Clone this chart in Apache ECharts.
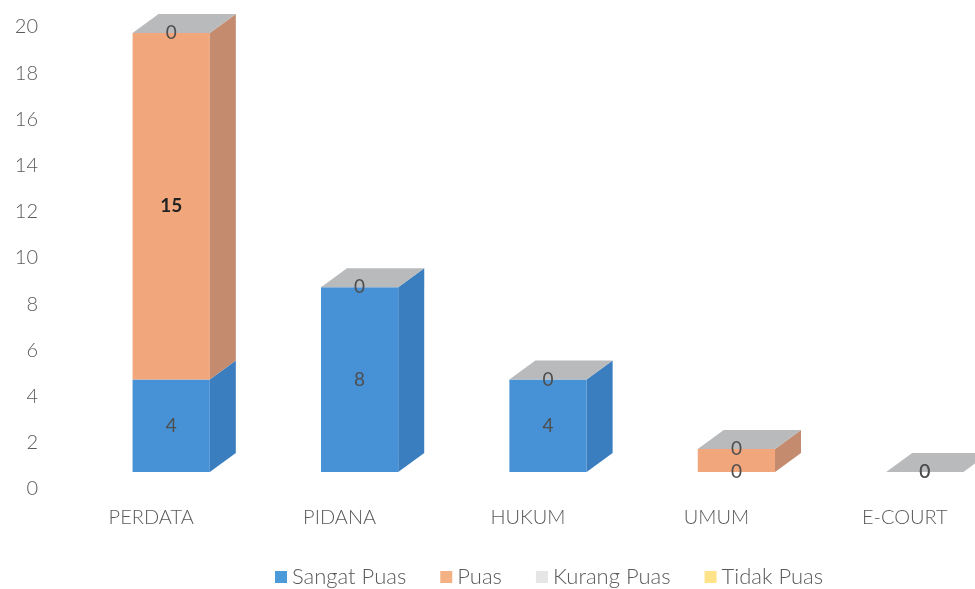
<!DOCTYPE html>
<html>
<head>
<meta charset="utf-8">
<script src="https://cdn.jsdelivr.net/npm/echarts@6/dist/echarts.min.js"></script>
<style>html,body{margin:0;padding:0;background:#fff;}#c{width:975px;height:589px;}</style>
</head>
<body>
<div id="c"></div>
<script>
const categories = ['PERDATA', 'PIDANA', 'HUKUM', 'UMUM', 'E-COURT'];
const sangatPuas = [4, 8, 4, 0, 0];
const puas = [15, 0, 0, 1, 0];
const kurangPuas = [0, 0, 0, 0, 0];
const tidakPuas = [0, 0, 0, 0, 0];
const yTicks = { min: 0, max: 20, interval: 2 };

// styling constants
const OX = 20, OY = -17, DX = 26, DY = -19, FACE = 0.41;
const FONT = 'Lato, "Open Sans", sans-serif';

const seriesDefs = [
  { name: 'Sangat Puas', values: sangatPuas, front: '#4792d6', side: '#3a7ec0', top: '#6aa8e0', legend: '#4d9ad8', label: 'all' },
  { name: 'Puas', values: puas, front: '#f2a67c', side: '#c48b6e', top: '#f5b896', legend: '#f4b183', label: 'puas' },
  { name: 'Tidak Puas', values: tidakPuas, front: '#ffd966', side: '#d9b84f', top: '#ffe38a', legend: '#ffe38a', label: 'none' },
  { name: 'Kurang Puas', values: kurangPuas, front: '#d0d0d0', side: '#b0b0b0', top: '#b9babc', legend: '#e7e6e6', label: 'all' }
];
const lastIdx = seriesDefs.length - 1;

// stack bases
const bases = categories.map(() => 0);
const series = seriesDefs.map((def, si) => {
  const data = def.values.map((v, i) => {
    const b = bases[i];
    bases[i] += v;
    return [i, b, b + v, v];
  });
  return {
    type: 'custom',
    name: def.name,
    itemStyle: { color: def.legend },
    encode: { x: 0, y: 2 },
    clip: false,
    data: data,
    renderItem: function (params, api) {
      const cat = api.value(0), v0 = api.value(1), v1 = api.value(2), val = api.value(3);
      const p0 = api.coord([cat, v0]);
      const p1 = api.coord([cat, v1]);
      const band = api.size([1, 0])[0];
      const w = band * FACE;
      const cx = p0[0] + OX;
      const x0 = cx - w / 2, x1 = cx + w / 2;
      const yb = p0[1] + OY, yt = p1[1] + OY;
      const children = [];
      if (yb - yt > 0.1) {
        children.push({ type: 'rect', shape: { x: x0, y: yt, width: w, height: yb - yt }, style: { fill: def.front } });
        children.push({ type: 'polygon', shape: { points: [[x1, yb], [x1 + DX, yb + DY], [x1 + DX, yt + DY], [x1, yt]] }, style: { fill: def.side } });
      }
      if (si === lastIdx) {
        children.push({ type: 'polygon', shape: { points: [[x0, yt], [x1, yt], [x1 + DX, yt + DY], [x0 + DX, yt + DY]] }, style: { fill: def.top } });
      }
      let show = def.label === 'all' || (def.label === 'puas' && val !== 1);
      if (def.label === 'puas' && val === 0) show = false;
      if (show) {
        const bold = def.label === 'puas';
        children.push({
          type: 'text', z2: 10,
          style: {
            text: String(val), x: cx, y: (yt + yb) / 2,
            textAlign: 'center', textVerticalAlign: 'middle',
            fill: bold ? '#222222' : '#4f4f4f',
            fontSize: 19, fontFamily: FONT, fontWeight: bold ? 'bold' : 'normal'
          }
        });
      }
      return { type: 'group', children: children };
    }
  };
});

const chart = echarts.init(document.getElementById('c'));
chart.setOption({
  animation: false,
  backgroundColor: '#ffffff',
  grid: { left: 57, width: 942, top: 27, bottom: 100, outerBoundsMode: 'none' },
  xAxis: {
    type: 'category', data: categories,
    axisLine: { show: false }, axisTick: { show: false },
    axisLabel: { margin: 19, fontSize: 20, color: '#5a5a5a', fontFamily: FONT, fontWeight: 300 }
  },
  yAxis: {
    type: 'value', min: yTicks.min, max: yTicks.max, interval: yTicks.interval,
    axisLine: { show: false }, axisTick: { show: false }, splitLine: { show: false },
    axisLabel: { margin: 19, fontSize: 20, color: '#5a5a5a', fontFamily: FONT, fontWeight: 300 }
  },
  legend: {
    data: ['Sangat Puas', 'Puas', 'Kurang Puas', 'Tidak Puas'],
    left: 270, top: 561, icon: 'rect', itemWidth: 12, itemHeight: 12, itemGap: 34,
    textStyle: { fontSize: 22, color: '#5a5a5a', fontFamily: FONT, fontWeight: 300 }
  },
  series: series
});
</script>
</body>
</html>
